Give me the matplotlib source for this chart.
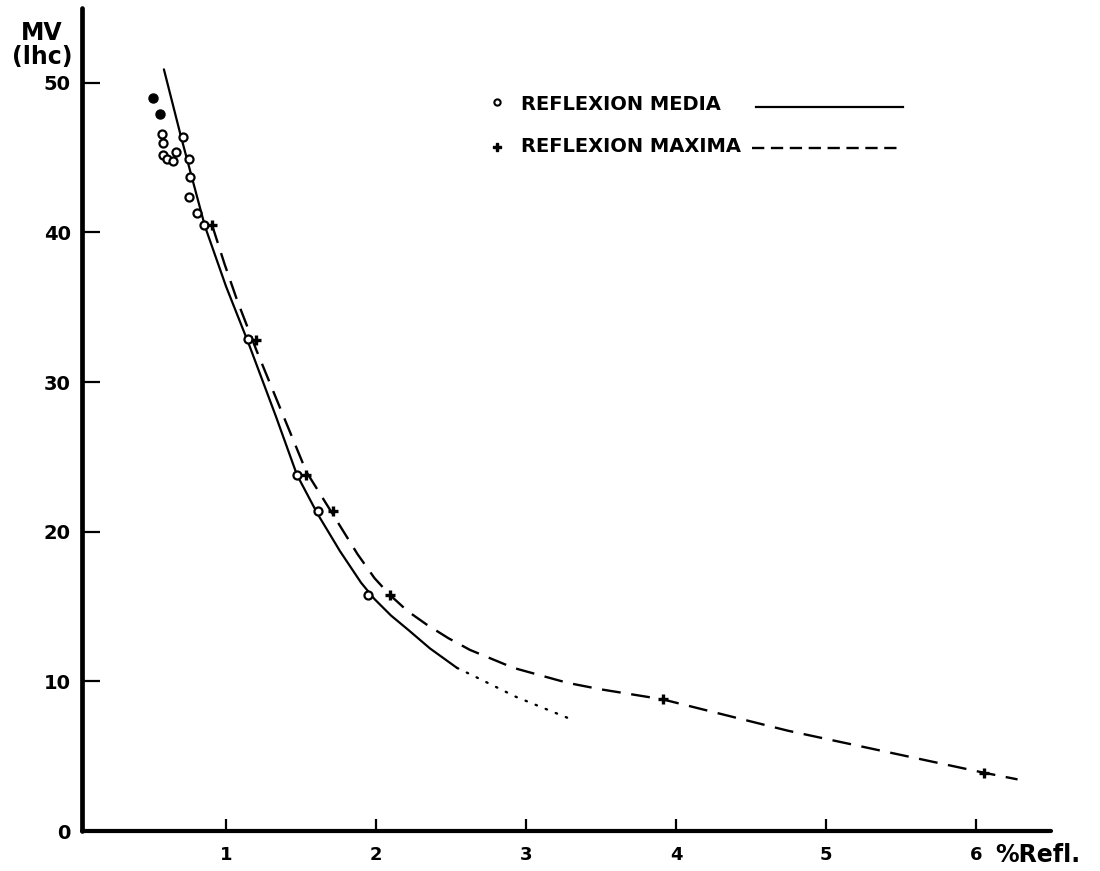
import matplotlib
matplotlib.use("Agg")
import matplotlib.pyplot as plt

# ---- data ----
media_filled_x = [0.51, 0.557]
media_filled_y = [49.0, 47.9]
media_x = [0.572, 0.577, 0.577, 0.606, 0.646, 0.668, 0.71, 0.751, 0.762, 0.755,
           0.806, 0.85, 1.147, 1.473, 1.61, 1.945]
media_y = [46.6, 46.0, 45.2, 44.9, 44.8, 45.4, 46.4, 44.9, 43.7, 42.4,
           41.3, 40.5, 32.9, 23.8, 21.4, 15.8]
maxima_x = [0.907, 1.20, 1.536, 1.71, 2.09, 3.91, 6.05]
maxima_y = [40.5, 32.8, 23.8, 21.4, 15.8, 8.8, 3.9]

media_curve_x = [0.586, 0.70, 0.86, 1.0, 1.15, 1.333, 1.473, 1.61, 1.76, 1.90, 1.99,
                 2.10, 2.22, 2.36, 2.54]
media_curve_y = [50.9, 46.4, 40.4, 36.4, 32.6, 27.7, 23.8, 21.2, 18.7, 16.6, 15.5,
                 14.4, 13.4, 12.2, 10.9]
media_extrap_x = [2.54, 2.65, 2.93, 3.29]
media_extrap_y = [10.9, 10.37, 8.98, 7.51]
maxima_curve_x = [0.907, 0.99, 1.073, 1.20, 1.384, 1.536, 1.71, 1.877, 1.99, 2.09, 2.21,
                  2.337, 2.48, 2.627, 2.917, 3.277, 3.497, 3.91, 4.747, 6.05, 6.277]
maxima_curve_y = [40.5, 37.9, 35.5, 32.2, 27.7, 24.0, 21.2, 18.5, 16.9, 15.8, 14.7,
                  13.8, 12.9, 12.1, 10.9, 9.9, 9.47, 8.8, 6.7, 3.9, 3.45]

x_ticks = [1, 2, 3, 4, 5, 6]
y_ticks = [0, 10, 20, 30, 40, 50]
legend_labels = ["REFLEXION MEDIA", "REFLEXION MAXIMA"]
x_label = "%Refl."
y_label = "MV\n(lhc)"

# ---- figure ----
W, H = 1100, 871
fig = plt.figure(figsize=(W / 100, H / 100), dpi=100)
left_px, right_px, bottom_px, top_px = 82, 1051, 831, 8
ax = fig.add_axes([left_px / W, (H - bottom_px) / H, (right_px - left_px) / W,
                   (bottom_px - top_px) / H])
ax.set_xlim(0.04, 6.5)
ax.set_ylim(0, 55)

for s in ["top", "right"]:
    ax.spines[s].set_visible(False)
ax.spines["left"].set_linewidth(3.4)
ax.spines["bottom"].set_linewidth(3.0)
ax.spines["left"].set_capstyle("round")
ax.spines["bottom"].set_capstyle("round")

ax.set_xticks(x_ticks)
ax.set_yticks(y_ticks)
ax.set_xticklabels([str(t) for t in x_ticks], fontsize=13, fontweight="bold")
ax.set_yticklabels([str(t) for t in y_ticks], fontsize=14, fontweight="bold")
ax.tick_params(axis="x", direction="in", length=9, width=1.6, pad=11)
ax.tick_params(axis="y", direction="in", length=13, width=1.6, pad=8)
ax.yaxis.get_major_ticks()[0].tick1line.set_visible(False)

# curves
ax.plot(media_curve_x, media_curve_y, color="black", lw=1.6,
        solid_capstyle="round", solid_joinstyle="round")
ax.plot(media_extrap_x, media_extrap_y, color="black", lw=1.7,
        linestyle=(0, (0.6, 4.0)), dash_capstyle="round")
ax.plot(maxima_curve_x, maxima_curve_y, color="black", lw=1.7,
        linestyle=(0, (8, 4.5)))

# points
ax.plot(media_filled_x, media_filled_y, "o", color="black", ms=6.5, ls="none")
ax.plot(media_x, media_y, "o", mfc="white", mec="black", mew=1.6, ms=5.8, ls="none")
ax.plot(maxima_x, maxima_y, "+", color="black", mew=2.4, ms=7.5, ls="none")

# ---- manual legend ----
def fx(px):
    return (px - left_px) / (right_px - left_px)

def fy(py):
    return (bottom_px - py) / (bottom_px - top_px)

T = ax.transAxes
ax.plot([fx(497)], [fy(102)], "o", mfc="white", mec="black", mew=1.5, ms=4.5,
        transform=T, clip_on=False)
ax.text(fx(521), fy(104), legend_labels[0], transform=T, fontsize=14,
        fontweight="bold", va="center", ha="left")
ax.plot([fx(756), fx(903)], [fy(107), fy(107)], color="black", lw=1.6, transform=T)

ax.plot([fx(497)], [fy(147)], "P", color="black", ms=6, transform=T, clip_on=False)
ax.text(fx(521), fy(147), legend_labels[1], transform=T, fontsize=14,
        fontweight="bold", va="center", ha="left")
ax.plot([fx(752), fx(903)], [fy(148), fy(148)], color="black", lw=1.7,
        linestyle=(0, (5.2, 2.8)), transform=T)

# axis labels
fig.text(995 / W, 1 - 855 / H, x_label, fontsize=17, fontweight="bold",
         ha="left", va="center")
fig.text(42 / W, 1 - 45 / H, y_label, fontsize=17, fontweight="bold",
         ha="center", va="center", linespacing=1.05)

fig.savefig("out.png", dpi=100)
